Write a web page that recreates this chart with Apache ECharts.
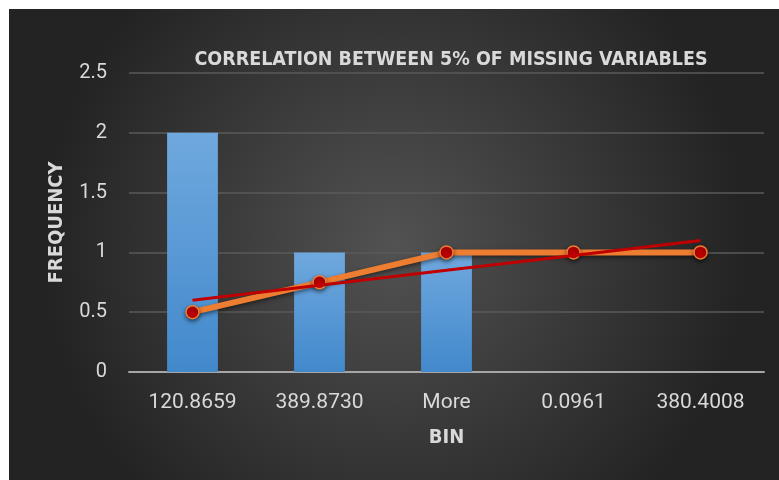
<!DOCTYPE html>
<html><head><meta charset="utf-8">
<script src="https://cdn.jsdelivr.net/npm/echarts@6/dist/echarts.min.js"></script>
<style>html,body{margin:0;padding:0;background:#fff}#c{width:779px;height:480px}</style>
</head><body><div id="c"></div>
<script>
var categories = ['120.8659', '389.8730', 'More', '0.0961', '380.4008'];
var frequency = [2, 1, 1, 0, 0];
var cumulative = [0.5, 0.75, 1, 1, 1];
var trend = [0.6, 0.725, 0.85, 0.975, 1.1];
var yTicks = [0, 0.5, 1, 1.5, 2, 2.5];

var chart = echarts.init(document.getElementById('c'), null, {renderer: 'canvas'});
var txt = '#d9d9d9';
var cond = '"DejaVu Sans Condensed", "DejaVu Sans", sans-serif';
chart.setOption({
  animation: false,
  graphic: [{
    type: 'rect', z: -10, silent: true,
    shape: {x: 9, y: 9, width: 770, height: 471},
    style: {fill: new echarts.graphic.RadialGradient(0.5, 0.5, 0.75, [
      {offset: 0, color: '#525252'}, {offset: 1, color: '#232323'}])}
  }],
  title: {
    text: 'CORRELATION BETWEEN 5% OF MISSING VARIABLES',
    left: 446, top: 45, textAlign: 'center',
    textStyle: {color: txt, fontSize: 19.5, fontWeight: 'bold', fontFamily: cond}
  },
  grid: {left: 129, right: 15, top: 73, bottom: 108},
  xAxis: {
    type: 'category', data: categories,
    name: 'BIN', nameLocation: 'middle', nameGap: 56,
    nameTextStyle: {color: txt, fontSize: 20, fontWeight: 'bold', fontFamily: cond},
    axisLine: {lineStyle: {color: '#a6a6a6', width: 2}},
    axisTick: {show: false},
    axisLabel: {color: txt, fontSize: 21, fontFamily: 'Roboto', margin: 20}
  },
  yAxis: {
    type: 'value', min: yTicks[0], max: yTicks[yTicks.length - 1], interval: 0.5,
    name: 'FREQUENCY', nameLocation: 'middle', nameGap: 62, nameRotate: 90,
    nameTextStyle: {color: txt, fontSize: 20, fontWeight: 'bold', fontFamily: cond},
    axisLine: {show: false}, axisTick: {show: false},
    axisLabel: {color: txt, fontSize: 20, fontFamily: 'Roboto', margin: 22},
    splitLine: {lineStyle: {color: '#5a5a5a', width: 1.5}}
  },
  series: [{
    type: 'bar', data: frequency, barWidth: '40%',
    itemStyle: {color: new echarts.graphic.LinearGradient(0, 0, 0, 1, [
      {offset: 0, color: '#6fa8de'}, {offset: 1, color: '#4289cc'}])}
  }, {
    type: 'line', data: cumulative, symbol: 'circle', symbolSize: 13, z: 3,
    lineStyle: {color: '#ed7d31', width: 6, shadowColor: 'rgba(0,0,0,0.5)', shadowBlur: 4, shadowOffsetY: 2},
    itemStyle: {color: '#c00000', borderColor: '#ed7d31', borderWidth: 1.5, shadowColor: 'rgba(0,0,0,0.5)', shadowBlur: 4, shadowOffsetY: 2}
  }, {
    type: 'line', data: trend, symbol: 'none', z: 4,
    lineStyle: {color: '#c00000', width: 3}
  }]
});
</script></body></html>
